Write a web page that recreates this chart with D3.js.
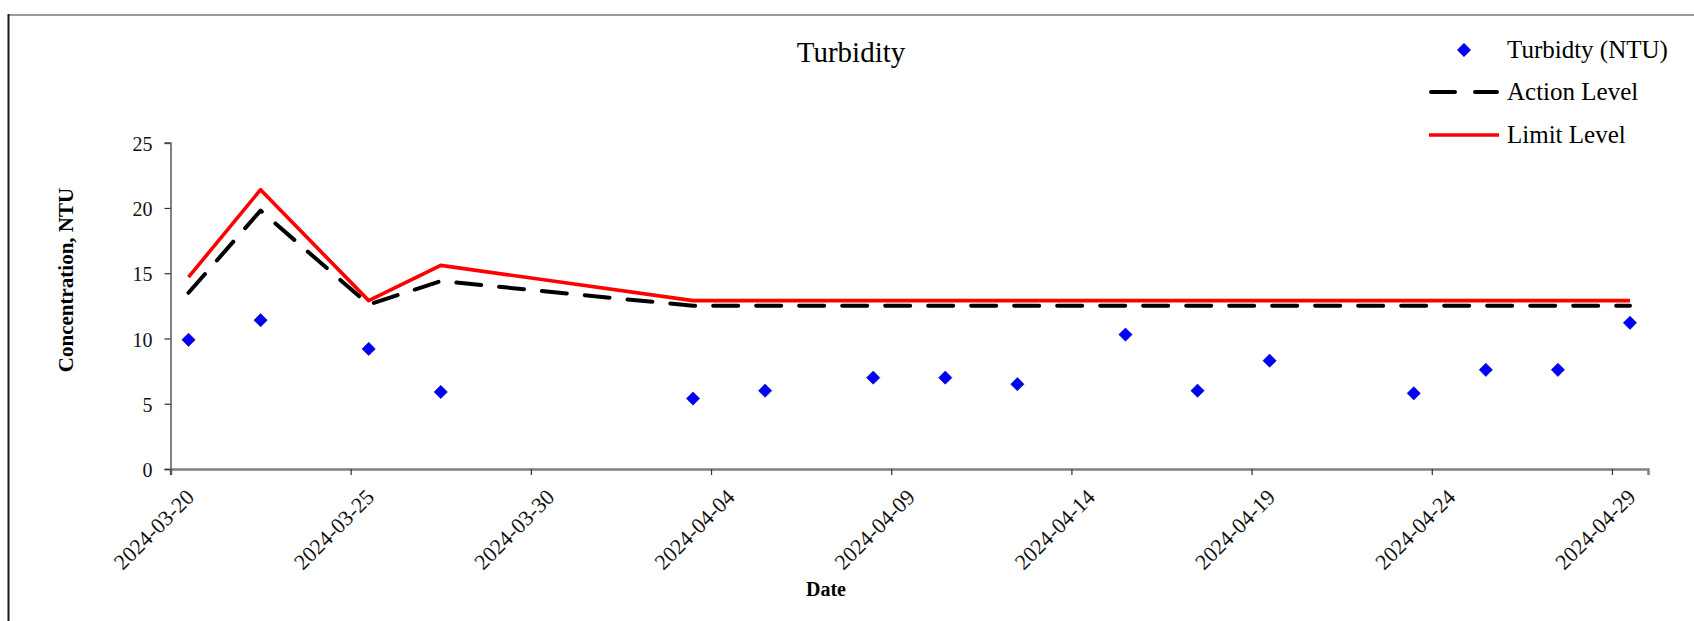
<!DOCTYPE html>
<html>
<head>
<meta charset="utf-8">
<script src="https://cdn.jsdelivr.net/npm/d3@7"></script>
<style>
  html, body { margin: 0; padding: 0; background: #fff; }
  svg { display: block; font-family: "Liberation Serif", "Times New Roman", serif; }
</style>
</head>
<body>
<svg id="chart" width="1694" height="621"></svg>
<script>
// ---- data ----
const dates = ["2024-03-20 12","2024-03-22 12","2024-03-25 12","2024-03-27 12","2024-04-03 12","2024-04-05 12","2024-04-08 12","2024-04-10 12","2024-04-12 12","2024-04-15 12","2024-04-17 12","2024-04-19 12","2024-04-23 12","2024-04-25 12","2024-04-27 12","2024-04-29 12"];
const turbidity = [9.9, 11.4, 9.2, 5.9, 5.4, 6.0, 7.0, 7.0, 6.5, 10.3, 6.0, 8.3, 5.8, 7.6, 7.6, 11.2];
const actionLevel = [13.5, 19.8, 12.6, 14.4, 12.5, 12.5, 12.5, 12.5, 12.5, 12.5, 12.5, 12.5, 12.5, 12.5, 12.5, 12.5];
const limitLevel = [14.7, 21.4, 12.9, 15.6, 12.9, 12.9, 12.9, 12.9, 12.9, 12.9, 12.9, 12.9, 12.9, 12.9, 12.9, 12.9];
const xDomain = ["2024-03-20", "2024-04-30"];
const xTickLabels = ["2024-03-20","2024-03-25","2024-03-30","2024-04-04","2024-04-09","2024-04-14","2024-04-19","2024-04-24","2024-04-29"];
const yTicks = [0, 5, 10, 15, 20, 25];
const seriesNames = ["Turbidty (NTU)", "Action Level", "Limit Level"];

// ---- setup ----
const parseDT = d3.timeParse("%Y-%m-%d %H");
const parseD = d3.timeParse("%Y-%m-%d");
const svg = d3.select("#chart");

const plot = { left: 170.5, right: 1648, top: 142.7, bottom: 469 };

const x = d3.scaleTime()
  .domain(xDomain.map(parseD))
  .range([plot.left, plot.right]);
const y = d3.scaleLinear()
  .domain([0, 25])
  .range([plot.bottom, plot.top]);

const rows = dates.map((d, i) => ({
  date: parseDT(d), t: turbidity[i], a: actionLevel[i], l: limitLevel[i]
}));

// chart frame borders
svg.append("line").attr("x1", 8).attr("x2", 1694).attr("y1", 15).attr("y2", 15)
  .attr("stroke", "#9a9a9a").attr("stroke-width", 2);
svg.append("line").attr("x1", 8.5).attr("x2", 8.5).attr("y1", 14).attr("y2", 621)
  .attr("stroke", "#1a1a1a").attr("stroke-width", 2);

// title
svg.append("text").attr("x", 851).attr("y", 62)
  .attr("text-anchor", "middle").attr("font-size", 29).attr("fill", "#000")
  .text("Turbidity");

// y axis
const yAxis = svg.append("g")
  .attr("transform", `translate(${plot.left},0)`)
  .call(d3.axisLeft(y).tickValues(yTicks).tickSize(6).tickPadding(12).tickFormat(d3.format("d")));
yAxis.select(".domain").attr("stroke", "#808080").attr("stroke-width", 2);
yAxis.selectAll(".tick line").attr("stroke", "#333").attr("stroke-width", 1.2);
yAxis.selectAll(".tick text").attr("font-size", 20).attr("fill", "#111")
  .attr("font-family", "Liberation Serif").attr("dy", "0.38em");

// x axis
const xAxis = svg.append("g")
  .attr("transform", `translate(0,${plot.bottom})`)
  .call(d3.axisBottom(x).tickValues(xTickLabels.map(parseD)).tickSize(6)
    .tickFormat(d3.timeFormat("%Y-%m-%d")));
xAxis.select(".domain").attr("stroke", "#808080").attr("stroke-width", 2.5);
xAxis.selectAll(".tick line").attr("stroke", "#333").attr("stroke-width", 1.2);
xAxis.selectAll(".tick text")
  .attr("font-size", 22).attr("fill", "#111").attr("font-family", "Liberation Serif")
  .attr("text-anchor", "end").attr("x", 0).attr("y", 0).attr("dy", "0.35em")
  .attr("transform", "translate(19,24) rotate(-45)");

// axis titles
svg.append("text")
  .attr("transform", "translate(73,280) rotate(-90)")
  .attr("text-anchor", "middle").attr("font-size", 21).attr("font-weight", "bold")
  .text("Concentration, NTU");
svg.append("text").attr("x", 826).attr("y", 596)
  .attr("text-anchor", "middle").attr("font-size", 20).attr("font-weight", "bold")
  .text("Date");

// lines
const lineA = d3.line().x(d => x(d.date)).y(d => y(d.a));
const lineL = d3.line().x(d => x(d.date)).y(d => y(d.l));
svg.append("path").datum(rows).attr("d", lineA)
  .attr("fill", "none").attr("stroke", "#000").attr("stroke-width", 4)
  .attr("stroke-dasharray", "25,18").attr("stroke-linecap", "round").attr("stroke-linejoin", "round");
svg.append("path").datum(rows).attr("d", lineL)
  .attr("fill", "none").attr("stroke", "#ff0000").attr("stroke-width", 3.6)
  .attr("stroke-linejoin", "round");

// points
const diamondType = d3.symbolDiamond2 || d3.symbolDiamond;
const diamond = d3.symbol().type(diamondType).size(112);
svg.append("g").selectAll("path").data(rows).join("path")
  .attr("d", diamond)
  .attr("transform", d => `translate(${x(d.date)},${y(d.t)})`)
  .attr("fill", "#0000ff").attr("stroke", "#00008b").attr("stroke-width", 0.6);

// legend
const lg = svg.append("g");
lg.append("path").attr("d", diamond).attr("transform", "translate(1464,50)")
  .attr("fill", "#0000ff").attr("stroke", "#00008b").attr("stroke-width", 0.6);
lg.append("line").attr("x1", 1431).attr("x2", 1497).attr("y1", 92).attr("y2", 92)
  .attr("stroke", "#000").attr("stroke-width", 4).attr("stroke-dasharray", "24,20")
  .attr("stroke-linecap", "round");
lg.append("line").attr("x1", 1429).attr("x2", 1499).attr("y1", 135).attr("y2", 135)
  .attr("stroke", "#ff0000").attr("stroke-width", 3.6);
const legendY = [57.5, 100, 143];
lg.selectAll("text").data(seriesNames).join("text")
  .attr("x", 1507).attr("y", (d, i) => legendY[i])
  .attr("font-size", 25).attr("fill", "#000")
  .text(d => d);
</script>
</body>
</html>
